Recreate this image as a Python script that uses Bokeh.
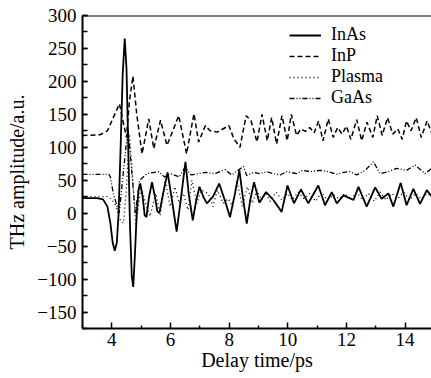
from bokeh.plotting import figure
from bokeh.models import Range1d, Span, Legend, LegendItem, FixedTicker
from bokeh.embed import file_html
from bokeh.resources import INLINE

# ---- data ----
inas_x = [3.0, 3.5, 3.7, 3.85, 3.95, 4.03, 4.10, 4.17, 4.23, 4.30, 4.37, 4.44, 4.50, 4.56, 4.62, 4.68, 4.73,
          4.79, 4.85, 4.91, 4.97, 5.05, 5.12, 5.18, 5.27, 5.37, 5.47, 5.55, 5.62, 5.75, 5.90, 6.05, 6.21,
          6.35, 6.51, 6.62, 6.76, 6.88, 6.99, 7.12, 7.24, 7.45, 7.66, 7.85, 8.03, 8.20, 8.35, 8.48, 8.60,
          8.72, 8.85, 9.03, 9.26, 9.51, 9.79, 9.99, 10.21, 10.45, 10.70, 11.04, 11.27, 11.50, 11.67, 11.90,
          12.24, 12.41, 12.69, 12.98, 13.20, 13.43, 13.60, 13.85, 14.05, 14.28, 14.51, 14.74, 14.91]
inas_y = [23, 23, 21, 10, -15, -45, -57, -45, 0, 100, 210, 265, 220, 100, -20, -95, -112,
          -60, 0, 35, 45, 25, -3, -6, 25, 47, 25, 3, 0, 30, 62, 20, -28,
          20, 78, 30, -11, 20, 40, 25, 15, 25, 45, 20, -6, 30, 65, 20, -16,
          20, 47, 16, 32, 20, 2, 42, 15, 36, 15, 42, 12, 32, 15, 27,
          20, 40, 10, 39, 22, 30, 10, 46, 12, 37, 14, 35, 25]

inp_x = [3.0, 3.6, 3.85, 4.05, 4.26, 4.38, 4.50, 4.60, 4.72, 4.85, 5.03, 5.26, 5.43, 5.66, 5.88, 6.08,
         6.28, 6.55, 6.80, 6.96, 7.19, 7.35, 7.60, 7.99, 8.16, 8.37, 8.58, 8.75, 8.95, 9.12, 9.30, 9.45,
         9.62, 9.80, 9.98, 10.12, 10.30, 10.45, 10.60, 10.75, 10.90, 11.05, 11.20, 11.38, 11.55, 11.70,
         11.85, 12.00, 12.15, 12.35, 12.52, 12.70, 12.90, 13.05, 13.22, 13.40, 13.58, 13.75, 13.90,
         14.05, 14.20, 14.38, 14.55, 14.75, 14.92]
inp_y = [118, 119, 125, 145, 166, 140, 115, 170, 208, 150, 90, 143, 98, 141, 103, 125,
         148, 90, 151, 108, 133, 125, 123, 133, 113, 100, 148, 140, 108, 150, 110, 145,
         105, 148, 110, 150, 118, 128, 124, 130, 122, 140, 110, 143, 115, 130,
         120, 132, 112, 142, 110, 138, 115, 148, 118, 145, 120, 128, 112,
         140, 125, 145, 115, 140, 120]

plasma_x = [3.0, 3.9, 4.1, 4.3, 4.4, 4.5, 4.6, 4.7, 4.82, 4.9, 5.0, 5.15, 5.3, 5.5, 5.65, 5.82, 5.99,
            6.15, 6.3, 6.44, 6.6, 6.73, 6.9, 7.05, 7.29, 7.45, 7.6, 7.8, 7.97, 8.12, 8.26, 8.45, 8.62,
            8.8, 8.95, 9.1, 9.25, 9.4, 9.6, 9.8, 10.0, 10.15, 10.35, 10.55, 10.75, 10.95, 11.15, 11.35,
            11.55, 11.75, 11.95, 12.15, 12.35, 12.55, 12.75, 12.95, 13.15, 13.35, 13.55, 13.75, 13.95,
            14.15, 14.35, 14.55, 14.75, 14.95]
plasma_y = [25, 25, 15, -12, -15, 40, 120, 60, -20, 10, 40, 15, -5, 30, -3, 50, 10,
            40, 15, 30, 5, 50, 15, 35, 30, 10, 35, 15, 22, 10, 50, 10, 40,
            15, 35, 20, 30, 18, 32, 20, 30, 20, 32, 22, 30, 18, 32, 20,
            28, 22, 30, 20, 32, 20, 30, 18, 32, 20, 30, 22, 32,
            20, 30, 22, 30, 24]

gaas_x = [3.0, 3.9, 3.95, 4.05, 4.25, 4.55, 4.8, 4.95, 5.2, 5.6, 5.8, 6.0, 6.3, 6.5, 6.7, 6.95, 7.2,
          7.5, 7.86, 8.09, 8.3, 8.49, 8.6, 8.83, 9.05, 9.28, 9.51, 9.74, 9.96, 10.3, 10.5, 10.76, 11.1,
          11.39, 11.67, 11.9, 12.12, 12.35, 12.64, 12.92, 13.15, 13.43, 13.71, 14.05, 14.34, 14.68, 14.91]
gaas_y = [59, 59, 55, 30, 0, 130, 0, 50, 60, 63, 55, 60, 55, 70, 58, 60, 62,
          60, 66, 58, 65, 71, 57, 62, 60, 63, 60, 58, 63, 60, 65, 63, 65,
          63, 59, 62, 63, 58, 65, 78, 60, 63, 68, 65, 73, 60, 68]

x_ticks = [4, 6, 8, 10, 12, 14]
y_ticks = [-150, -100, -50, 0, 50, 100, 150, 200, 250, 300]

FONT = "Liberation Serif"

p = figure(width=431, height=378, output_backend="svg", toolbar_location=None,
           x_range=Range1d(3, 14.9), y_range=Range1d(-175, 300),
           min_border_left=82, min_border_top=15, min_border_right=0, min_border_bottom=50)
p.outline_line_color = None
p.grid.visible = False
p.background_fill_color = "white"

r_inas = p.line(inas_x, inas_y, line_color="black", line_width=1.8)
r_inp = p.line(inp_x, inp_y, line_color="black", line_width=1.5, line_dash="5 3")
r_pl = p.line(plasma_x, plasma_y, line_color="black", line_width=1.3, line_dash="1 3")
r_ga = p.line(gaas_x, gaas_y, line_color="black", line_width=1.3, line_dash="5 2 1 2 1 2")

p.add_layout(Span(location=300, dimension="width", line_color="black", line_width=2))

for ax in (p.xaxis[0], p.yaxis[0]):
    ax.axis_line_width = 2
    ax.axis_line_color = "black"
    ax.major_tick_out = 0
    ax.minor_tick_out = 0
    ax.major_tick_line_width = 1.5
    ax.minor_tick_line_width = 1.5
    ax.major_label_text_font = FONT
    ax.major_label_text_font_size = "19px"
    ax.major_label_text_color = "black"
    ax.axis_label_text_font = FONT
    ax.axis_label_text_font_size = "20px"
    ax.axis_label_text_font_style = "normal"
    ax.axis_label_text_color = "black"

p.xaxis.ticker = FixedTicker(ticks=x_ticks, minor_ticks=[3, 5, 7, 9, 11, 13, 15])
p.yaxis.ticker = FixedTicker(ticks=y_ticks, minor_ticks=list(range(-175, 301, 25)))
p.xaxis.major_tick_in = 6
p.xaxis.minor_tick_in = 3
p.yaxis.major_tick_in = 5
p.yaxis.minor_tick_in = 5
p.xaxis.axis_label = "Delay time/ps"
p.yaxis.axis_label = "THz amplitude/a.u."
p.xaxis.major_label_standoff = 4
p.xaxis.axis_label_standoff = 0
p.yaxis.major_label_standoff = 6
p.yaxis.axis_label_standoff = 6

legend = Legend(items=[LegendItem(label="InAs", renderers=[r_inas]),
                       LegendItem(label="InP", renderers=[r_inp]),
                       LegendItem(label="Plasma", renderers=[r_pl]),
                       LegendItem(label="GaAs", renderers=[r_ga])],
                location=(207, 220), glyph_width=32, glyph_height=20, label_height=20,
                spacing=0, padding=0, margin=0, label_standoff=10,
                label_text_font=FONT, label_text_font_size="18px",
                label_text_color="black",
                border_line_color=None, background_fill_alpha=0)
p.add_layout(legend)

open("out.html", "w").write(file_html(p, INLINE))
